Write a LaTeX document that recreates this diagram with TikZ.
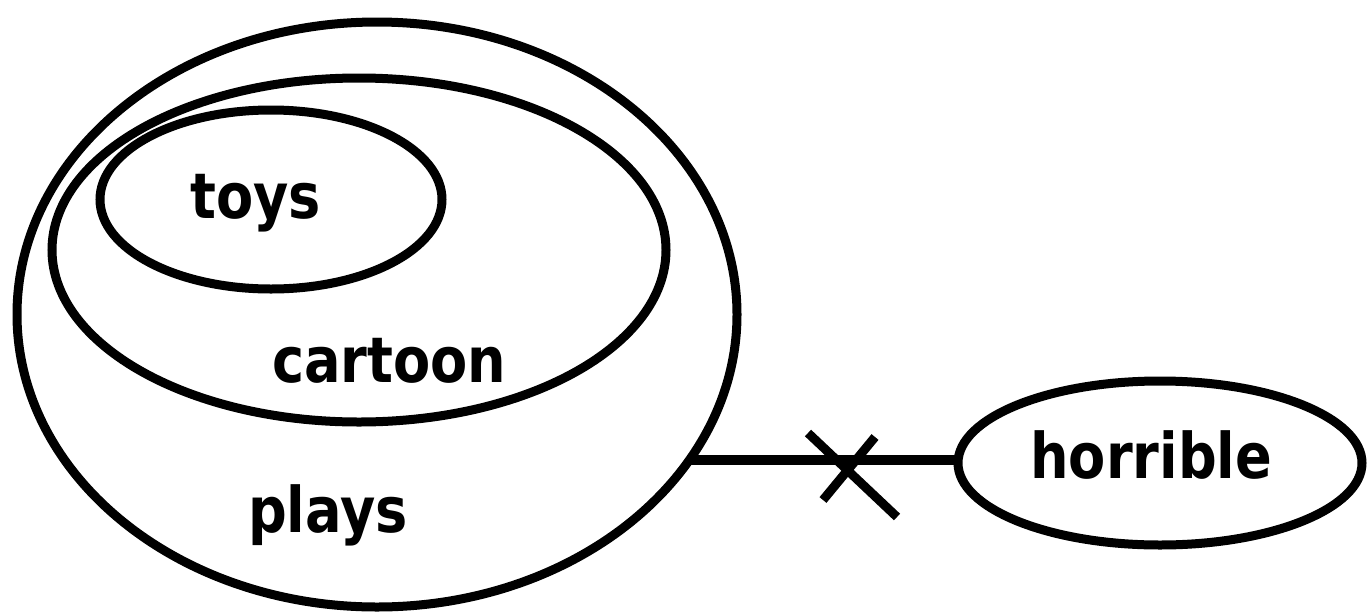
\documentclass[tikz,border=0pt]{standalone}
\usepackage{fontspec}
\newfontfamily\labfont{DejaVu Sans}[FakeStretch=0.86]
\usetikzlibrary{shapes.geometric}
\begin{document}
\begin{tikzpicture}[x=1pt,y=-1pt,
  setellipse/.style={draw, ellipse, line width=9pt, inner sep=0pt, outer sep=0pt},
  lab/.style={anchor=base west, inner sep=0pt, font=\labfont\bfseries\fontsize{63}{70}\selectfont},
  conn/.style={line width=10pt},
  crossline/.style={line width=9pt}]
\useasboundingbox (0,0) rectangle (1368,611);
\node[setellipse, minimum width=720pt, minimum height=585pt] (plays) at (377,314.5) {};
\node[setellipse, minimum width=614pt, minimum height=344pt] (cartoon) at (359,250) {};
\node[setellipse, minimum width=342pt, minimum height=179pt] (toys) at (271,199.5) {};
\node[setellipse, minimum width=404pt, minimum height=164pt] (horrible) at (1160,463) {};
\node[lab] (toyslab) at (190,218) {toys};
\node[lab] (cartoonlab) at (272,382) {cartoon};
\node[lab] (playslab) at (248,532) {plays};
\node[lab] (horriblelab) at (1030,478) {horrible};
\draw[conn] (plays.-25) -- (plays.-25 -| horrible.west);
\draw[crossline] (808,433) -- (897,517);
\draw[crossline] (875,437) -- (823,500);
\end{tikzpicture}
\end{document}
